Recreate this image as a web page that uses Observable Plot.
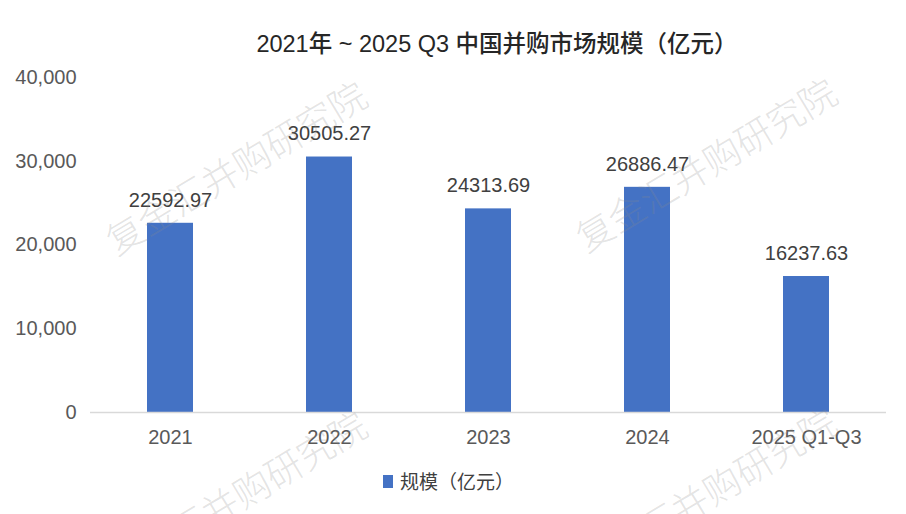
<!DOCTYPE html>
<html>
<head>
<meta charset="utf-8">
<script src="https://cdn.jsdelivr.net/npm/d3@7"></script>
<script src="https://cdn.jsdelivr.net/npm/@observablehq/plot@0.6"></script>
<style>
  html, body { margin: 0; padding: 0; background: #fff; }
  #wrap { position: relative; width: 906px; height: 514px; overflow: hidden;
          font-family: "Liberation Sans", "Noto Sans CJK SC", sans-serif; }
  #title { position: absolute; left: 44px; width: 906px; top: 30px; text-align: center;
           font-size: 23.5px; font-weight: 500; color: #262626; line-height: 28px;
           font-family: "Liberation Sans", "Noto Sans CJK SC", sans-serif; }
  #legend { position: absolute; left: 383px; top: 467px; font-size: 19px; color: #404040;
            display: flex; align-items: center; line-height: 28px;
            font-family: "Noto Sans CJK SC", sans-serif; }
  #legend .sw { width: 10px; height: 13px; background: #4472C4; margin-right: 7px; }
  .wm { position: absolute; font-size: 37px; color: rgba(140,140,140,0.24); white-space: nowrap;
        font-family: "Noto Sans CJK SC", sans-serif; font-weight: 300;
        transform: translate(-50%, -50%) rotate(-31deg); pointer-events: none; }
</style>
</head>
<body>
<div id="wrap">
  <div id="chart"></div>
  <div id="title">2021年 ~ 2025 Q3 中国并购市场规模（亿元）</div>
  <div id="legend"><div class="sw"></div><span>规模（亿元）</span></div>
</div>
<script>
const categories = ["2021", "2022", "2023", "2024", "2025 Q1-Q3"];
const values = [22592.97, 30505.27, 24313.69, 26886.47, 16237.63];
const yTicks = [0, 10000, 20000, 30000, 40000];
const watermarkText = "复金汇并购研究院";
const watermarkCenters = [[235, 166], [705, 163], [235, 496], [705, 493]];

const data = categories.map((c, i) => ({category: c, value: values[i]}));

const chart = Plot.plot({
  width: 906,
  height: 514,
  marginTop: 77,
  marginBottom: 102,
  marginLeft: 90,
  marginRight: 20,
  style: {fontFamily: "Liberation Sans, Noto Sans CJK SC, sans-serif", fontSize: "20px", color: "#595959", background: "transparent"},
  x: {domain: categories, paddingInner: 0.71, paddingOuter: 0.355, label: null},
  y: {domain: [0, 40000], label: null},
  marks: [
    Plot.axisY({ticks: yTicks, tickFormat: d3.format(","), tickSize: 0, tickPadding: 14, fontSize: 20, fill: "#595959"}),
    Plot.axisX({tickSize: 0, tickPadding: 17, fontSize: 20, fill: "#595959"}),
    Plot.barY(data, {x: "category", y: "value", fill: "#4472C4"}),
    Plot.ruleY([0], {stroke: "#d9d9d9", strokeWidth: 1.5}),
    Plot.text(data, {x: "category", y: "value", text: d => d.value.toFixed(2), dy: -23, fontSize: 20, fill: "#404040"})
  ]
});
document.getElementById("chart").appendChild(chart);

const wrap = document.getElementById("wrap");
for (const [cx, cy] of watermarkCenters) {
  const el = document.createElement("div");
  el.className = "wm";
  el.textContent = watermarkText;
  el.style.left = cx + "px";
  el.style.top = cy + "px";
  wrap.appendChild(el);
}
</script>
</body>
</html>
